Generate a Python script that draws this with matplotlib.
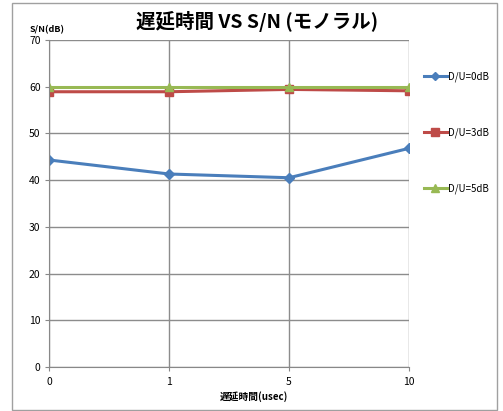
import numpy as np
import matplotlib.pyplot as plt
from matplotlib.patches import Rectangle

plt.rcParams['font.family'] = ['Noto Sans CJK JP', 'DejaVu Sans']

# data
categories = ['0', '1', '5', '10']
du0 = [44.3, 41.3, 40.5, 46.8]
du3 = [58.9, 58.9, 59.4, 59.1]
du5 = [59.9, 59.9, 59.9, 59.9]
labels = ['D/U=0dB', 'D/U=3dB', 'D/U=5dB']

fig = plt.figure(figsize=(5.03, 4.11), dpi=100)
ax = fig.add_axes([0.0974, 0.107, 0.716, 0.796])

x = np.arange(len(categories))
l0, = ax.plot(x, du0, color='#4a7ebb', lw=2.2, marker='D', ms=5)
l3, = ax.plot(x, du3, color='#be4b48', lw=2.2, marker='s', ms=6)
l5, = ax.plot(x, du5, color='#98b954', lw=2.2, marker='^', ms=6)

ax.set_xlim(0, 3)
ax.set_ylim(0, 70)
ax.set_xticks(x)
ax.set_xticklabels(categories)
ax.set_yticks(np.arange(0, 71, 10))
ax.tick_params(labelsize=7.5, length=3, color='#888888', pad=3)
ax.tick_params(axis='x', pad=4)
ax.grid(True, color='#8c8c8c', lw=1)
ax.set_axisbelow(True)
for s in ['top', 'right']:
    ax.spines[s].set_visible(False)
for s in ['left', 'bottom']:
    ax.spines[s].set_color('#888888')

fig.text(0.511, 0.947, '遅延時間 VS S/N (モノラル)', fontsize=14, fontweight='bold',
         ha='center', va='center')
fig.text(0.058, 0.928, 'S/N(dB)', fontsize=6.5, fontweight='bold', va='center')
fig.text(0.505, 0.034, '遅延時間(usec)', fontsize=7, fontweight='bold', ha='center', va='center')

fig.legend([l0, l3, l5], labels, loc='upper left', bbox_to_anchor=(0.825, 0.848),
           frameon=False, fontsize=7, labelspacing=4.7, handlelength=2.4,
           handletextpad=0.1, markerscale=0.9)

fig.patches.append(Rectangle((0.024, 0.003), 0.964, 0.99, transform=fig.transFigure,
                             fill=False, edgecolor='#a0a0a0', lw=1))

plt.savefig('out.png', dpi=100)
